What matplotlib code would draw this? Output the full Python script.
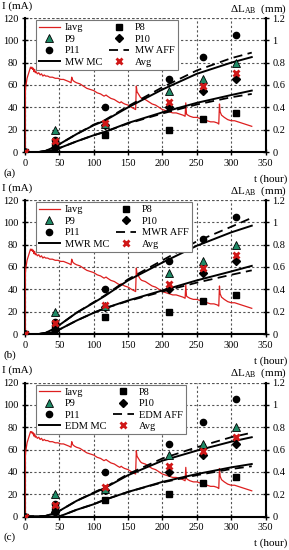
import matplotlib
matplotlib.use("Agg")
import matplotlib.pyplot as plt

plt.rcParams['font.family'] = ['Liberation Serif', 'DejaVu Serif']
plt.rcParams['mathtext.fontset'] = 'custom'
plt.rcParams['mathtext.rm'] = 'Liberation Serif'
plt.rcParams['mathtext.it'] = 'Liberation Serif:italic'

# ---- data ----
iavg_t = [0, 0.3, 0.6, 1, 2, 3, 4, 5, 6, 7, 8, 9, 10, 11, 12, 13, 14, 15, 16, 18, 20, 22, 24, 26, 28, 30,
          33, 36, 40, 44, 48, 52, 56, 60, 64, 67, 68, 69, 70, 72, 75, 80, 85, 90, 95, 100, 105, 110,
          115, 118, 120, 125, 130, 135, 138, 140, 142, 145, 150, 155, 158, 161, 162, 163, 165, 168,
          170, 175, 180, 185, 190, 195, 200, 205, 210, 215, 220, 225, 230, 233, 234, 235, 237, 240,
          245, 250, 255, 260, 265, 270, 275, 280, 282, 283, 284, 286, 290, 295, 300, 305, 310, 315,
          320, 325, 330]
iavg_v = [0, 45, 55, 58, 62, 66, 68, 70, 72, 74, 76, 75, 76, 74, 75, 72, 74, 71, 72, 70, 71, 69, 70, 68, 69, 68,
          68, 67, 67, 66, 66, 65, 65, 64, 63, 62, 67, 65, 64, 63, 62, 61, 59, 57, 56, 55, 53, 52,
          50, 51, 50, 48, 47, 45, 44, 45, 44, 43, 42, 40, 39, 38, 59, 54, 52, 49,
          48, 47, 45, 43, 42, 40, 38, 37, 36, 35, 35, 34, 33, 32, 44, 34, 33, 32,
          31, 31, 30, 29, 28, 27, 27, 26, 25, 43, 36, 33, 31, 29, 28, 28, 27, 26,
          25, 24, 23]

pt_t = [0, 43, 116, 210, 259, 307]
p8 = [0, 0.05, 0.15, 0.20, 0.30, 0.35]
p9 = [0, 0.20, 0.25, 0.55, 0.65, 0.80]
p10 = [0, 0.04, 0.24, 0.40, 0.55, 0.65]
p11 = [0, 0.11, 0.40, 0.65, 0.85, 1.05]
avg = [0, 0.10, 0.26, 0.45, 0.59, 0.71]

mod_t = [0, 20, 30, 43, 50, 75, 100, 116, 150, 200, 250, 300, 330]
# panel (a) MW
mw_mc_up = [0, 0, 0.01, 0.045, 0.07, 0.16, 0.24, 0.28, 0.40, 0.56, 0.70, 0.80, 0.85]
mw_aff_up = [0, 0, 0.01, 0.045, 0.07, 0.16, 0.245, 0.285, 0.41, 0.58, 0.73, 0.84, 0.89]
mw_mc_lo = [0, 0, 0.004, 0.018, 0.035, 0.095, 0.15, 0.18, 0.26, 0.355, 0.44, 0.51, 0.55]
mw_aff_lo = [0, 0, 0.004, 0.018, 0.035, 0.095, 0.15, 0.18, 0.255, 0.345, 0.425, 0.49, 0.52]
# panel (b) MWR
mwr_mc_up = [0, 0, 0.01, 0.05, 0.08, 0.19, 0.28, 0.34, 0.48, 0.64, 0.79, 0.91, 0.97]
mwr_aff_up = [0, 0, 0.01, 0.05, 0.08, 0.19, 0.285, 0.345, 0.49, 0.66, 0.83, 0.96, 1.04]
mwr_mc_lo = [0, 0, 0.004, 0.018, 0.04, 0.12, 0.19, 0.23, 0.30, 0.39, 0.48, 0.56, 0.61]
mwr_aff_lo = [0, 0, 0.004, 0.018, 0.04, 0.12, 0.19, 0.23, 0.295, 0.38, 0.46, 0.53, 0.57]
# panel (c) EDM
edm_mc_up = [0, 0, 0.005, 0.03, 0.05, 0.14, 0.21, 0.255, 0.37, 0.50, 0.59, 0.67, 0.71]
edm_aff_up = [0, 0, 0.005, 0.03, 0.05, 0.14, 0.215, 0.26, 0.38, 0.52, 0.62, 0.71, 0.75]
edm_mc_lo = [0, 0, 0, 0, 0, 0.06, 0.11, 0.15, 0.22, 0.31, 0.38, 0.44, 0.47]
edm_aff_lo = [0, 0, 0, 0, 0, 0.06, 0.11, 0.15, 0.22, 0.305, 0.37, 0.425, 0.45]

panels = [
    ("(a)", "MW", mw_mc_up, mw_aff_up, mw_mc_lo, mw_aff_lo),
    ("(b)", "MWR", mwr_mc_up, mwr_aff_up, mwr_mc_lo, mwr_aff_lo),
    ("(c)", "EDM", edm_mc_up, edm_aff_up, edm_mc_lo, edm_aff_lo),
]

x_ticks = [0, 50, 100, 150, 200, 250, 300, 350]
i_ticks = [0, 20, 40, 60, 80, 100, 120]
d_ticks = [0, 0.2, 0.4, 0.6, 0.8, 1.0, 1.2]
d_ticklabels = ["0", "0.2", "0.4", "0.6", "0.8", "1", "1.2"]

RED = "#dd1f1f"
XRED = "#d01818"
GREEN = "#1f8a66"
FS = 7.5

W, H = 289, 550
fig = plt.figure(figsize=(W / 100, H / 100), dpi=100)

ax_bottoms_px = [152, 334, 516.5]
ax_h_px = 134
left_px, right_px = 25, 265.5

for (lab, name, mc_up, aff_up, mc_lo, aff_lo), bpx in zip(panels, ax_bottoms_px):
    ax = fig.add_axes([left_px / W, 1 - bpx / H, (right_px - left_px) / W, ax_h_px / H])
    ax2 = ax.twinx()
    ax.set_xlim(0, 350)
    ax.set_ylim(0, 120)
    ax2.set_ylim(0, 1.2)
    ax.set_xticks(x_ticks)
    ax.set_yticks(i_ticks)
    ax2.set_yticks(d_ticks)
    ax2.set_yticklabels(d_ticklabels)
    for a in (ax, ax2):
        a.tick_params(direction='inout', length=4, width=1, labelsize=FS, pad=3, colors='black')
        a.spines['top'].set_visible(False)
    ax.spines['right'].set_visible(False)
    ax2.spines['left'].set_visible(False)
    ax2.spines['bottom'].set_visible(False)
    ax.spines['left'].set_linewidth(1.5)
    ax.spines['bottom'].set_linewidth(1.5)
    ax2.spines['right'].set_linewidth(1.5)
    ax.grid(True, which='major', color='#555555', linestyle=(0, (2, 2)), linewidth=0.8)
    ax.set_axisbelow(True)
    ax.axhline(120, color='#555555', linestyle=(0, (2, 2)), linewidth=0.8, zorder=0.5)

    h_iavg, = ax.plot(iavg_t, iavg_v, color=RED, lw=0.9, zorder=3, label='Iavg')

    h_mc, = ax2.plot(mod_t, mc_up, color='black', lw=1.4, zorder=4, label=f'{name} MC')
    ax2.plot(mod_t, mc_lo, color='black', lw=1.4, zorder=4)
    h_aff, = ax2.plot(mod_t, aff_up, color='black', lw=1.3, ls=(0, (5, 3)), zorder=4, label=f'{name} AFF')
    ax2.plot(mod_t, aff_lo, color='black', lw=1.3, ls=(0, (5, 3)), zorder=4)

    h_p8, = ax2.plot(pt_t, p8, ls='none', marker='s', ms=4.3, color='black', zorder=5, label='P8')
    h_p10, = ax2.plot(pt_t, p10, ls='none', marker='D', ms=3.8, color='black', zorder=5, label='P10')
    h_p11, = ax2.plot(pt_t, p11, ls='none', marker='o', ms=4.5, color='black', zorder=5, label='P11')
    h_p9, = ax2.plot(pt_t, p9, ls='none', marker='^', ms=5.2, mfc=GREEN, mec='black', mew=0.6,
                     zorder=6, label='P9')
    h_avg, = ax2.plot(pt_t, avg, ls='none', marker='x', ms=4.5, mew=2.0, color=XRED, zorder=7,
                      label='Avg')

    handles = [h_iavg, h_p9, h_p11, h_mc, h_p8, h_p10, h_aff, h_avg]
    leg = ax2.legend(handles=handles, ncol=2, loc='upper left', bbox_to_anchor=(0.045, 0.985),
                     fontsize=FS, frameon=True, fancybox=False, framealpha=1, edgecolor='#777777',
                     borderpad=0.3, labelspacing=0.2, handlelength=2.0, handletextpad=0.5,
                     columnspacing=0.6, borderaxespad=0)
    leg.get_frame().set_linewidth(0.8)
    leg.set_zorder(10)

    top_px = bpx - ax_h_px
    fig.text(2 / W, 1 - (top_px - 12) / H, "I (mA)", fontsize=8, ha='left', va='center')
    fig.text(287 / W, 1 - (top_px - 9) / H, r"$\Delta$L$_{\rm AB}$  (mm)", fontsize=8,
             ha='right', va='center')
    fig.text(4 / W, 1 - (bpx + 21) / H, lab, fontsize=8, ha='left', va='center')
    fig.text(287 / W, 1 - (bpx + 27) / H, "t (hour)", fontsize=8, ha='right', va='center')

fig.savefig("out.png", dpi=100)
